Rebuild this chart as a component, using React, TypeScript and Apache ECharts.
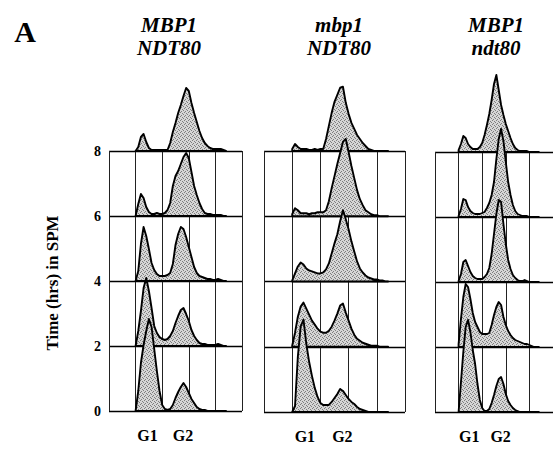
import React, { useEffect, useRef } from "react";
import * as echarts from "echarts";

// DNA content axis (in grid-column units, 0..5 across each panel)
const DNA_CONTENT = [1.0, 1.1, 1.2, 1.3, 1.4, 1.5, 1.6, 1.7, 1.8, 1.9, 2.0, 2.1, 2.2, 2.3, 2.4, 2.5, 2.6, 2.7, 2.8, 2.9, 3.0, 3.1, 3.2, 3.3, 3.4, 3.5, 3.6, 3.7, 3.8, 3.9, 4.0, 4.1, 4.2, 4.3, 4.4];

const TIME_POINTS = [8, 6, 4, 2, 0]; // hours in SPM, back to front
const Y_TICKS = [0, 2, 4, 6, 8];
const STRAIN_TOP = ["MBP1", "mbp1", "MBP1"];
const STRAIN_BOTTOM = ["NDT80", "NDT80", "ndt80"];
const PEAK_LABELS = ["G1", "G2"];
const PEAK_POSITIONS = [1.45, 2.78];

// cell counts (arbitrary units) per time point
const MBP1_NDT80_8H = [0, 4, 14, 17, 9, 3, 1, 1, 1, 1, 1, 1, 1, 8, 19, 28, 38, 46, 55, 63, 60, 48, 38, 29, 20, 13, 8, 5, 3, 2, 2, 2, 2, 1, 0];
const MBP1_NDT80_6H = [0, 12, 22, 18, 9, 4, 2, 2, 3, 2, 2, 3, 6, 13, 30, 40, 45, 52, 59, 63, 58, 44, 30, 21, 13, 7, 3, 2, 2, 1, 1, 1, 1, 0, 0];
const MBP1_NDT80_4H = [0, 10, 37, 54, 45, 32, 18, 11, 7, 5, 5, 5, 6, 8, 17, 36, 47, 54, 52, 44, 34, 24, 14, 8, 5, 4, 3, 2, 2, 1, 1, 2, 1, 0, 0];
const MBP1_NDT80_2H = [0, 15, 35, 58, 68, 55, 38, 20, 13, 9, 7, 6, 7, 10, 15, 23, 30, 36, 38, 32, 25, 16, 10, 6, 3, 2, 2, 1, 1, 1, 1, 2, 1, 0, 0];
const MBP1_NDT80_0H = [0, 20, 48, 66, 80, 92, 84, 62, 40, 20, 6, 2, 1, 2, 6, 13, 19, 24, 28, 24, 18, 12, 8, 4, 2, 1, 1, 0, 0, 0, 0, 0, 0, 0, 0];

const mbp1_NDT80_8H = [2, 7, 4, 2, 2, 2, 1, 1, 2, 1, 2, 2, 12, 25, 38, 49, 56, 63, 64, 48, 37, 28, 22, 16, 12, 8, 5, 2, 1, 0, 0, 0, 0, 0, 0];
const mbp1_NDT80_6H = [2, 8, 6, 3, 3, 3, 2, 3, 3, 4, 4, 4, 6, 15, 28, 40, 52, 63, 74, 77, 64, 50, 38, 26, 17, 11, 6, 4, 2, 1, 1, 0, 0, 0, 0];
const mbp1_NDT80_4H = [1, 8, 15, 19, 17, 13, 11, 10, 9, 8, 8, 9, 12, 18, 28, 38, 47, 60, 71, 62, 52, 40, 30, 20, 13, 9, 6, 4, 3, 2, 2, 1, 1, 0, 0];
const mbp1_NDT80_2H = [1, 14, 30, 40, 44, 38, 32, 26, 22, 18, 15, 14, 14, 16, 20, 26, 33, 41, 43, 34, 26, 18, 12, 8, 6, 4, 3, 2, 1, 1, 1, 0, 0, 0, 0];
const mbp1_NDT80_0H = [0, 6, 55, 85, 92, 68, 50, 36, 24, 15, 9, 7, 7, 7, 10, 14, 18, 23, 21, 17, 13, 10, 8, 5, 3, 2, 1, 0, 0, 0, 0, 0, 0, 0, 0];

const MBP1_ndt80_8H = [2, 8, 16, 14, 8, 5, 3, 3, 3, 5, 9, 17, 27, 38, 52, 68, 77, 62, 47, 37, 28, 21, 14, 8, 4, 2, 1, 1, 1, 1, 0, 0, 0, 0, 0];
const MBP1_ndt80_6H = [1, 8, 18, 17, 10, 6, 4, 3, 3, 3, 4, 5, 9, 14, 22, 35, 58, 78, 88, 76, 55, 35, 22, 12, 6, 3, 2, 1, 1, 1, 0, 0, 0, 0, 0];
const MBP1_ndt80_4H = [1, 8, 20, 22, 16, 10, 6, 4, 3, 3, 3, 5, 8, 14, 28, 48, 68, 82, 80, 58, 38, 22, 13, 7, 4, 2, 1, 1, 2, 1, 0, 0, 0, 0, 0];
const MBP1_ndt80_2H = [3, 28, 50, 63, 60, 48, 34, 25, 20, 15, 13, 13, 13, 14, 22, 32, 40, 45, 42, 30, 22, 16, 12, 9, 7, 6, 5, 4, 3, 3, 2, 1, 0, 0, 0];
const MBP1_ndt80_0H = [0, 30, 60, 85, 92, 80, 62, 48, 28, 12, 4, 1, 1, 3, 9, 17, 26, 33, 35, 28, 18, 11, 7, 4, 2, 1, 0, 0, 0, 0, 0, 0, 0, 0, 0];

const PANELS = [
  [MBP1_NDT80_8H, MBP1_NDT80_6H, MBP1_NDT80_4H, MBP1_NDT80_2H, MBP1_NDT80_0H],
  [mbp1_NDT80_8H, mbp1_NDT80_6H, mbp1_NDT80_4H, mbp1_NDT80_2H, mbp1_NDT80_0H],
  [MBP1_ndt80_8H, MBP1_ndt80_6H, MBP1_ndt80_4H, MBP1_ndt80_2H, MBP1_ndt80_0H],
];

const COUNT_TO_HOURS = 2 / 65;
const SERIF = '"Liberation Serif", "Times New Roman", serif';

function makeStipple(): any {
  const c = document.createElement("canvas");
  c.width = 4;
  c.height = 4;
  const ctx = c.getContext("2d");
  if (!ctx) return "#c4c4c4";
  ctx.fillStyle = "#d6d6d6";
  ctx.fillRect(0, 0, 4, 4);
  ctx.fillStyle = "#7e7e7e";
  ctx.fillRect(0, 0, 1, 1);
  ctx.fillRect(2, 1, 1, 1);
  ctx.fillRect(1, 3, 1, 1);
  ctx.fillRect(3, 2, 1, 1);
  return { image: c, repeat: "repeat" };
}

export default function App() {
  const ref = useRef<HTMLDivElement>(null);
  useEffect(() => {
    const chart = echarts.init(ref.current!, null, { renderer: "svg" });
    const fill = makeStipple();
    const grids = [
      { left: 109, top: 151, width: 133, height: 260 },
      { left: 264, top: 151, width: 141, height: 261 },
      { left: 435, top: 152, width: 121, height: 260 },
    ];
    const titleX = [169, 339, 496];

    const xAxes = grids.map((_, i) => ({
      type: "value",
      gridIndex: i,
      min: 0,
      max: 5,
      interval: 1,
      axisLine: { show: false },
      axisTick: { show: false },
      axisLabel: { show: false },
      splitLine: { show: true, lineStyle: { color: "#222", width: 1 } },
    }));
    const yAxes = grids.map((_, i) => ({
      type: "value",
      gridIndex: i,
      min: Y_TICKS[0],
      max: Y_TICKS[Y_TICKS.length - 1],
      interval: 2,
      axisLine: { show: false },
      axisTick: { show: false },
      axisLabel: {
        show: i === 0,
        margin: 8,
        color: "#000",
        fontFamily: SERIF,
        fontWeight: "bold",
        fontSize: 14,
        padding: [8, 0, 0, 0],
      },
      splitLine: { show: true, lineStyle: { color: "#000", width: 1.4 } },
    }));

    const series: any[] = [];
    PANELS.forEach((panel, p) => {
      TIME_POINTS.forEach((t, k) => {
        const counts = panel[k];
        series.push({
          type: "custom",
          xAxisIndex: p,
          yAxisIndex: p,
          z: 3 + k,
          clip: false,
          silent: true,
          data: [[DNA_CONTENT[0], t]],
          renderItem: (_params: any, api: any) => {
            const base = api.value(1);
            const pts = DNA_CONTENT.map((x, i) => api.coord([x, base + counts[i] * COUNT_TO_HOURS]));
            const start = api.coord([DNA_CONTENT[0], base]);
            const end = api.coord([DNA_CONTENT[DNA_CONTENT.length - 1], base]);
            return {
              type: "polygon",
              shape: { points: [start, ...pts, end] },
              style: { fill, stroke: "#000", lineWidth: 1.9, lineJoin: "round" },
            };
          },
        });
      });
      series.push({
        type: "custom",
        xAxisIndex: p,
        yAxisIndex: p,
        z: 20,
        clip: false,
        silent: true,
        data: PEAK_POSITIONS.map((u, i) => [u, 0, i]),
        renderItem: (_params: any, api: any) => {
          const pt = api.coord([api.value(0), api.value(1)]);
          return {
            type: "text",
            x: pt[0],
            y: pt[1] + 24,
            style: {
              text: PEAK_LABELS[api.value(2)],
              font: `bold 16px ${SERIF}`,
              fill: "#000",
              align: "center",
              verticalAlign: "middle",
            },
          };
        },
      });
    });

    const graphic: any[] = [
      {
        type: "text",
        x: 25,
        y: 31,
        style: { text: "A", font: `bold 30px ${SERIF}`, fill: "#000", align: "center", verticalAlign: "middle" },
      },
      {
        type: "text",
        x: 52,
        y: 283,
        rotation: Math.PI / 2,
        style: { text: "Time (hrs) in SPM", font: `bold 17px ${SERIF}`, fill: "#000", align: "center", verticalAlign: "middle" },
      },
    ];
    STRAIN_TOP.forEach((s, i) => {
      graphic.push({
        type: "text",
        x: titleX[i],
        y: 25,
        style: { text: s, font: `italic bold 21px ${SERIF}`, fill: "#000", align: "center", verticalAlign: "middle" },
      });
      graphic.push({
        type: "text",
        x: titleX[i],
        y: 48,
        style: { text: STRAIN_BOTTOM[i], font: `italic bold 21px ${SERIF}`, fill: "#000", align: "center", verticalAlign: "middle" },
      });
    });

    chart.setOption({
      animation: false,
      backgroundColor: "#fff",
      grid: grids,
      xAxis: xAxes,
      yAxis: yAxes,
      series,
      graphic,
    });
    return () => chart.dispose();
  }, []);
  return (
    <div
      ref={ref}
      style={{ position: "fixed", left: 0, top: 0, width: 553, height: 449, background: "#fff" }}
    />
  );
}
